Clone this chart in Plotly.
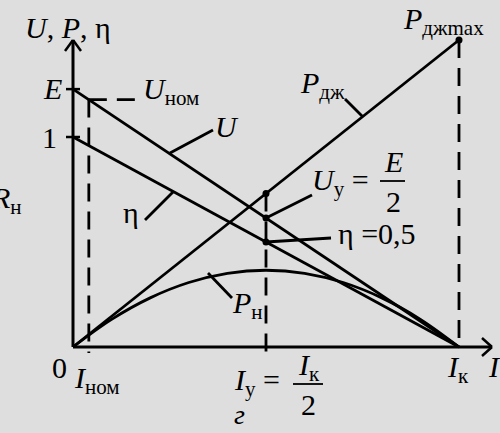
import plotly.graph_objects as go

# schematic load characteristics of a source (I in units of I_k, power in units of P_dzh max)
I_line = [0.0, 1.0]
U_vals = [0.84, 0.0]          # U = E at I=0, falls to 0 at I_k
eta_vals = [0.684, 0.0]       # eta = 1 at I=0
P_dzh_vals = [0.0, 1.0]       # P_dzh grows to P_dzh max at I_k

I_curve = [0.0, 0.1, 0.2, 0.3, 0.4, 0.5, 0.6, 0.7, 0.8, 0.9, 1.0]
P_n_vals = [0.0, 0.09, 0.16, 0.21, 0.24, 0.25, 0.24, 0.21, 0.16, 0.09, 0.0]

I_nom = 0.041
U_nom = 0.806
I_y = 0.5
U_y = 0.42
eta_y = 0.342
P_dzh_y = 0.5
I_k = 1.0
P_dzh_max = 1.0

W, H = 500, 433
X0, Y0 = 73, 347        # pixel position of origin
SX, SY = 386, 307       # pixels per unit


def dx(px):
    return (px - X0) / SX


def dy(py):
    return (Y0 - py) / SY


BG = "#dedede"
INK = "black"
LW = 2.8
DASH = "18px,10px"
FONT = "Liberation Serif"

fig = go.Figure()


def seg(xs, ys, dash=None, width=LW):
    fig.add_trace(go.Scatter(x=xs, y=ys, mode="lines",
                             line=dict(color=INK, width=width, dash=dash),
                             hoverinfo="skip", showlegend=False))


# axes
seg([0, 0], [0, dy(40)], width=3)
seg([0, dx(492)], [0, 0], width=3)
seg([dx(65), dx(73)], [dy(40 + 11), dy(40)], width=2.5)
seg([dx(81), dx(73)], [dy(40 + 11), dy(40)], width=2.5)
seg([dx(482), dx(492)], [dy(347 - 9), dy(347)], width=2.5)
seg([dx(482), dx(492)], [dy(347 + 9), dy(347)], width=2.5)
# y ticks at E and 1
seg([dx(66), dx(80)], [U_vals[0], U_vals[0]], width=2.5)
seg([dx(66), dx(80)], [eta_vals[0], eta_vals[0]], width=2.5)

# dashed guides
seg([I_nom, I_nom], [U_nom, dy(353)], dash=DASH)
seg([I_nom, dx(138)], [U_nom, U_nom], dash=DASH)
seg([I_y, I_y], [P_dzh_y, dy(353)], dash=DASH)
seg([I_k, I_k], [P_dzh_max, 0], dash=DASH)

# main curves
seg(I_line, U_vals)
seg(I_line, eta_vals)
seg(I_line, P_dzh_vals)
fig.add_trace(go.Scatter(x=I_curve, y=P_n_vals, mode="lines",
                         line=dict(color=INK, width=LW, shape="spline"),
                         hoverinfo="skip", showlegend=False))

# points
fig.add_trace(go.Scatter(x=[I_k, I_y, I_y, I_y], y=[P_dzh_max, P_dzh_y, U_y, eta_y],
                         mode="markers", marker=dict(color=INK, size=7),
                         hoverinfo="skip", showlegend=False))

# leader lines
seg([dx(170), dx(213)], [dy(153), dy(130)])
seg([dx(173), dx(145)], [dy(192), dy(220)])
seg([dx(345), dx(363)], [dy(99), dy(117)])
seg([I_y, dx(312)], [U_y, dy(195)])
seg([I_y, dx(331)], [eta_y, dy(238)])
seg([dx(208), dx(232)], [dy(273), dy(298)])
# fraction bars
seg([dx(380), dx(405)], [dy(181), dy(181)], width=1.8)
seg([dx(293), dx(323)], [dy(384), dy(384)], width=1.8)


def txt(s, px, py, anchor="left", size=30):
    fig.add_annotation(x=dx(px), y=dy(py), text=s, showarrow=False,
                       xanchor=anchor, yanchor="middle",
                       font=dict(family=FONT, size=size))


txt("<i>U</i>, <i>P</i>, η", 23, 27)
txt("<i>E</i>", 64, 88, "right")
txt("1", 59, 137, "right")
txt("<i>U</i><sub>ном</sub>", 141, 91)
txt("<i>U</i>", 213, 126)
txt("η", 141, 212, "right")
txt("<i>R</i><sub>н</sub>", 24, 200, "right")
txt("<i>P</i><sub>дж</sub>", 298, 85)
txt("<i>P</i><sub>джmax</sub>", 401, 21)
txt("<i>U</i><sub>у</sub> =", 310, 182)
txt("<i>E</i>", 393, 161, "center")
txt("2", 393, 201, "center")
txt("η =0,5", 336, 233)
txt("<i>P</i><sub>н</sub>", 230, 305)
txt("0", 69, 367, "right")
txt("<i>I</i><sub>ном</sub>", 72, 380)
txt("<i>I</i><sub>у</sub> =", 232, 382)
txt("<i>I</i><sub>к</sub>", 309, 367, "center")
txt("2", 308, 404, "center")
txt("<i>г</i>", 239, 414, "center", size=28)
txt("<i>I</i><sub>к</sub>", 445, 369)
txt("<i>I</i>", 486, 366)

fig.update_layout(
    width=W, height=H,
    margin=dict(l=0, r=0, t=0, b=0),
    paper_bgcolor=BG, plot_bgcolor=BG,
    font=dict(family=FONT, size=30, color=INK),
    xaxis=dict(visible=False, range=[dx(0), dx(W)], fixedrange=True),
    yaxis=dict(visible=False, range=[dy(H), dy(0)], fixedrange=True),
    showlegend=False,
)

fig.write_html("out.html", config={"displayModeBar": False},
               post_script="document.body.style.margin='0';")
